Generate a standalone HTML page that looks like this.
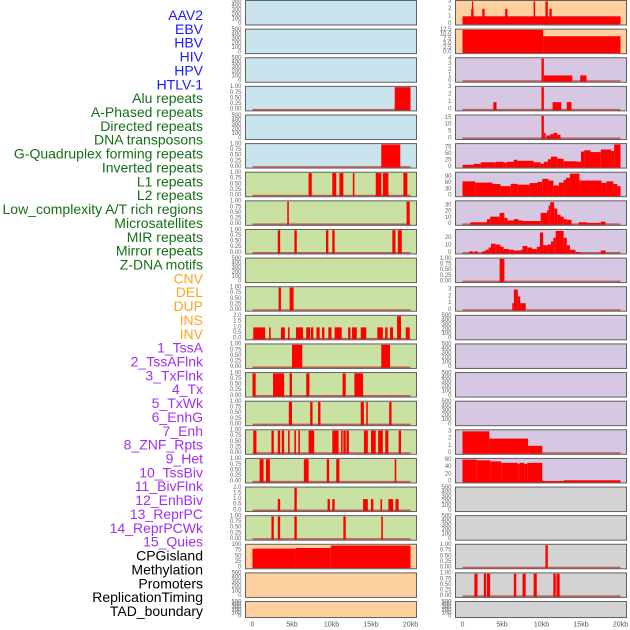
<!DOCTYPE html>
<html><head><meta charset="utf-8"><style>
html,body{margin:0;padding:0;background:#fff;}
svg{display:block;font-family:"Liberation Sans",sans-serif;}
</style></head><body>
<svg id="chart" width="630" height="630" viewBox="0 0 630 630" xmlns="http://www.w3.org/2000/svg">
<g id="labels"></g>
<g id="panels"></g>
<g id="xaxes"></g>
</svg>
<script>
// ---- track labels ----
const trackNames = ["AAV2","EBV","HBV","HIV","HPV","HTLV-1","Alu repeats","A-Phased repeats","Directed repeats","DNA transposons","G-Quadruplex forming repeats","Inverted repeats","L1 repeats","L2 repeats","Low_complexity A/T rich regions","Microsatellites","MIR repeats","Mirror repeats","Z-DNA motifs","CNV","DEL","DUP","INS","INV","1_TssA","2_TssAFlnk","3_TxFlnk","4_Tx","5_TxWk","6_EnhG","7_Enh","8_ZNF_Rpts","9_Het","10_TssBiv","11_BivFlnk","12_EnhBiv","13_ReprPC","14_ReprPCWk","15_Quies","CPGisland","Methylation","Promoters","ReplicationTiming","TAD_boundary"];
const trackGroups = ["v","v","v","v","v","v","r","r","r","r","r","r","r","r","r","r","r","r","r","s","s","s","s","s","c","c","c","c","c","c","c","c","c","c","c","c","c","c","c","o","o","o","o","o"];
const xTickKb = [0,5,10,15,20];
const xTickLabels = ["0","5kb","10kb","15kb","20kb"];

// ---- y tick sets ----
const T500 = [0,100,200,300,400,500];
const T1 = [0,0.25,0.5,0.75,1];
const T2 = [0,0.5,1,1.5,2];

// ---- left column segments [startKb, endKb, value] ----
const segL3 = [[18.0,20.0,1]];
const segL5 = [[16.3,18.7,1]];
const segL6 = [[7.1,7.5,1],[10.1,10.6,1],[11.0,11.5,1],[12.7,12.9,1],[15.6,16.3,1],[16.5,17.2,1],[19.1,19.6,1]];
const segL7 = [[4.4,4.6,1],[19.5,19.9,1]];
const segL8 = [[3.2,3.5,1],[5.3,5.6,1],[9.3,9.6,1],[10.1,10.4,1],[17.7,18.1,1],[18.4,18.9,1]];
const segL10 = [[3.3,3.6,1],[4.7,5.2,1]];
const segL11 = [[0.1,1.6,1],[2.1,2.3,1],[3.6,4.1,1],[4.5,4.7,1],[5.5,6.4,1],[6.8,7.3,1],[7.4,7.7,1],[8.1,8.5,1],[8.8,9.1,1],[9.6,10.0,1],[10.4,11.3,1],[12.1,12.4,1],[12.6,13.2,1],[13.7,14.4,1],[15.8,16.5,1],[16.8,17.1,1],[17.4,17.8,1],[18.3,18.8,2],[19.4,19.9,1]];
const segL12 = [[5.0,6.3,1],[16.3,17.4,1]];
const segL13 = [[0.0,0.4,1],[2.6,4.0,1],[4.7,5.0,1],[6.8,7.2,1],[11.4,11.8,1],[12.9,14.0,1]];
const segL14 = [[4.6,5.0,1],[7.3,7.6,1],[8.3,8.6,1],[13.7,14.1,1],[14.4,14.6,1],[17.3,17.6,1]];
const segL15 = [[0.1,0.5,1],[2.4,2.7,1],[3.2,3.5,1],[3.7,4.0,1],[4.5,4.7,1],[5.3,5.5,1],[5.8,6.0,1],[7.1,7.8,1],[10.1,10.9,1],[11.2,11.4,1],[11.5,11.8,1],[11.9,12.2,1],[14.1,14.6,1],[15.0,15.6,1],[15.9,16.5,1],[16.8,17.2,1],[18.5,18.8,1]];
const segL16 = [[0.9,1.4,1],[1.7,2.2,1],[6.5,7.1,1],[9.4,9.7,1],[10.6,11.0,1],[18.0,18.2,1]];
const segL17 = [[3.2,3.5,1],[5.3,5.6,2],[9.5,9.8,1],[10.1,10.4,1],[14.0,14.6,1],[15.0,15.3,1],[16.2,16.4,1],[17.2,17.8,1],[18.1,18.5,1]];
const segL18 = [[2.4,2.7,1],[3.2,3.5,1],[5.3,5.6,1],[11.5,11.8,1],[16.3,16.5,1]];
const segL19 = [[0,5.5,84],[5.5,9.9,87],[9.9,20,98]];

// ---- right column segments ----
const segR0 = [[0,20,1],[1.1,1.4,2],[1.2,1.35,3],[2.5,2.8,2],[5.4,5.7,2],[9.0,9.2,3],[10.5,10.8,3],[11.0,11.3,2]];
const segR1 = [[0,10.2,12.5],[10.2,20,9]];
const segR2 = [[10.0,10.3,4],[10.3,13.9,1],[14.9,15.7,1]];
const segR3 = [[3.9,4.3,1],[10.0,10.3,3],[11.4,12.5,1],[13.2,13.8,1]];
const segR4 = [[10.0,10.3,16.5],[10.3,10.5,4],[10.6,11.1,2],[11.1,11.5,3],[11.5,12.0,4],[12.0,12.4,2.5]];
const segR5 = [[0,1.4,8],[1.4,2.3,12],[2.3,4.2,18],[4.2,5.2,20],[5.2,5.6,17],[5.6,6.5,20],[6.5,6.9,28],[6.9,9.0,24],[9.0,9.9,18],[9.9,10.3,12],[10.3,10.8,20],[10.8,11.2,30],[11.2,12.0,40],[12.0,12.8,32],[12.8,14.5,22],[14.5,15.0,20],[15.0,15.4,60],[15.4,16.2,65],[16.2,17.5,58],[17.5,18.8,68],[18.8,19.2,62],[19.2,20,88]];
const segR6 = [[0,1.6,68],[1.6,3.8,62],[3.8,4.8,55],[4.8,6.1,45],[6.1,7.0,56],[7.0,8.5,52],[8.5,9.5,60],[9.5,10.1,65],[10.1,10.9,80],[10.9,11.5,72],[11.5,12.2,48],[12.2,12.8,62],[12.8,13.1,75],[13.1,13.6,85],[13.6,14.8,105],[14.8,17.6,72],[17.6,18.2,60],[18.2,19.1,68],[19.1,19.6,55],[19.6,20,45]];
const segR7 = [[1.0,3.1,3],[3.1,3.5,8],[3.5,4.7,12],[4.7,5.3,18],[5.3,5.7,10],[5.7,6.5,6],[6.5,7.1,8],[7.1,7.6,6],[7.6,9.9,5],[9.9,10.7,18],[10.7,10.9,22],[10.9,11.1,30],[11.1,11.6,35],[11.6,12.0,25],[12.0,12.4,15],[12.4,12.8,12],[12.8,13.2,8],[13.2,13.8,7],[14.7,15.8,3],[15.8,17.5,2],[17.5,18.1,4]];
const segR8 = [[0.9,1.3,2],[1.5,1.9,2],[2.5,2.9,2],[2.9,3.3,4],[3.3,3.6,7],[3.6,4.2,12],[4.2,4.8,11],[4.8,5.2,8],[5.2,5.9,5],[5.9,6.5,4],[6.5,7.4,3],[7.4,7.6,4],[7.6,8.2,9],[8.2,8.8,7],[8.8,9.4,5],[9.4,9.8,8],[9.8,10.2,27],[10.2,10.8,10],[10.8,11.2,11],[11.2,11.5,15],[11.5,11.8,20],[11.8,12.8,29],[12.8,13.2,20],[13.2,13.6,10],[13.6,14.3,4],[14.3,14.9,1],[17.5,18.1,3]];
const segR9 = [[4.7,5.3,1]];
const segR10 = [[6.3,6.5,1],[6.5,7.0,3],[7.0,7.3,2],[7.3,8.0,1]];
const segR15 = [[0,3.4,3],[3.4,8.3,2],[8.3,10.1,1]];
const segR16 = [[0,1.8,61],[1.8,3.5,59],[3.5,4.9,56],[4.9,7.0,52],[7.0,7.2,49],[7.2,7.8,52],[7.8,8.2,49],[8.2,10.1,52],[10.1,12.8,2],[12.8,20,4]];
const segR19 = [[10.5,10.8,1]];
const segR20 = [[1.5,1.9,1],[2.7,3.0,1],[3.1,3.5,1],[6.5,6.8,1],[7.6,8.0,1],[9.0,9.4,1],[11.5,11.8,1],[11.9,12.3,1]];

const BG = {b:"#c9e4ec", g:"#c9e1a3", o:"#fecf9f", p:"#d6c7e2", k:"#d3d3d3"};
// [column, row, bg, ymax, ticks, decimals, segments, baseline]
const panels = [
 [0,0,"b",500,T500,0,[],false],[0,1,"b",500,T500,0,[],false],[0,2,"b",500,T500,0,[],false],
 [0,3,"b",1,T1,2,segL3,true],[0,4,"b",500,T500,0,[],false],[0,5,"b",1,T1,2,segL5,true],
 [0,6,"g",1,T1,2,segL6,true],[0,7,"g",1,T1,2,segL7,true],[0,8,"g",1,T1,2,segL8,true],
 [0,9,"g",500,T500,0,[],false],[0,10,"g",1,T1,2,segL10,true],[0,11,"g",2,T2,1,segL11,true],
 [0,12,"g",1,T1,2,segL12,true],[0,13,"g",1,T1,2,segL13,true],[0,14,"g",1,T1,2,segL14,true],
 [0,15,"g",1,T1,2,segL15,true],[0,16,"g",1,T1,2,segL16,true],[0,17,"g",2,T2,1,segL17,true],
 [0,18,"g",1,T1,2,segL18,true],[0,19,"o",100,[0,25,50,75,100],0,segL19,false],
 [0,20,"o",500,T500,0,[],false],[0,21,"o",500,T500,0,[],false],
 [1,0,"o",3,[0,1,2,3],0,segR0,false],[1,1,"o",12.5,[0,2.5,5,7.5,10,12.5],1,segR1,false],
 [1,2,"p",4,[0,1,2,3,4],0,segR2,true],[1,3,"p",3,[0,1,2,3],0,segR3,true],
 [1,4,"p",16.5,[0,5,10,15],0,segR4,true],[1,5,"p",88,[0,25,50,75],0,segR5,true],
 [1,6,"p",108,[0,30,60,90],0,segR6,true],[1,7,"p",36,[0,10,20,30],0,segR7,true],
 [1,8,"p",30,[0,10,20],0,segR8,true],[1,9,"p",1,T1,2,segR9,true],
 [1,10,"p",3.3,[0,1,2,3],0,segR10,true],[1,11,"p",500,T500,0,[],false],
 [1,12,"p",500,T500,0,[],false],[1,13,"p",500,T500,0,[],false],[1,14,"p",500,T500,0,[],false],
 [1,15,"p",3.1,[0,1,2,3],0,segR15,true],[1,16,"p",62,[0,20,40,60],0,segR16,true],
 [1,17,"k",500,T500,0,[],false],[1,18,"k",500,T500,0,[],false],
 [1,19,"k",1,T1,2,segR19,true],[1,20,"k",1,T1,2,segR20,true],[1,21,"k",500,T500,0,[],false]
];

const NS = "http://www.w3.org/2000/svg";
function mk(tag, attrs, parent){ const e=document.createElementNS(NS,tag); for(const k in attrs) e.setAttribute(k,attrs[k]); parent.appendChild(e); return e; }
const colLeft = [245.5, 455.5], colRight = [416.5, 626.5], kb0 = [252.5, 462.5], pxPerKb = 7.9;
function xScale(col, kb){ return kb0[col] + kb*pxPerKb; }
function rowTop(r){ return 0.5 + r*28.62; }
function rowH(r){ return r===21 ? 16 : 24.5; }

// labels
const gl = document.getElementById("labels");
const grpColor = {v:"#1a1aff", r:"#157015", s:"#ffa520", c:"#a030f0", o:"#000000"};
trackNames.forEach((n,i)=>{
  const t = mk("text",{x:203,y:15+i*13.86,"text-anchor":"end","dominant-baseline":"central","font-size":"14","fill":grpColor[trackGroups[i]]},gl);
  t.textContent = n;
  
  
});

// panels
const gp = document.getElementById("panels");
panels.forEach(p=>{
  const [col,row,bg,ymax,ticks,dec,segs,base] = p;
  const top = rowTop(row), h = rowH(row), bot = top+h;
  const yTop = top+0.8, yBot = bot-1.2;
  const y = v => yBot - (v/ymax)*(yBot-yTop);
  const g = mk("g",{},gp);
  
  
  mk("rect",{x:colLeft[col],y:top,width:colRight[col]-colLeft[col],height:h,fill:BG[bg]},g);
  if(base){
    const bl = mk("line",{x1:xScale(col,0),x2:xScale(col,20),y1:yBot,y2:yBot,stroke:"#c04848","stroke-width":"1.6","stroke-opacity":"0.85"},g);
    
    
  }
  segs.forEach(s=>{
    const x1 = xScale(col,s[0]), x2 = xScale(col,s[1]);
    const yv = Math.max(y(s[2]), top+0.5);
    const r = mk("rect",{x:x1,y:yv,width:Math.max(x2-x1,1.2),height:yBot-yv+0.6,fill:"#ff0000"},g);
    
    
  });
  mk("rect",{x:colLeft[col],y:top,width:colRight[col]-colLeft[col],height:h,fill:"none",stroke:"#606060","stroke-width":"1"},g);
  ticks.forEach(tv=>{
    const t = mk("text",{x:colLeft[col]-4,y:y(tv),"text-anchor":"end","dominant-baseline":"central","font-size":"6","fill":"#666"},g);
    t.textContent = tv.toFixed(dec);
    
    
  });
});

// x axes
const gx = document.getElementById("xaxes");
[0,1].forEach(col=>{
  xTickKb.forEach((k,i)=>{
    const t = mk("text",{x:xScale(col,k),y:625,"text-anchor":"middle","dominant-baseline":"central","font-size":"7","fill":"#555"},gx);
    t.textContent = xTickLabels[i];
    
    
  });
});
</script>
</body></html>
